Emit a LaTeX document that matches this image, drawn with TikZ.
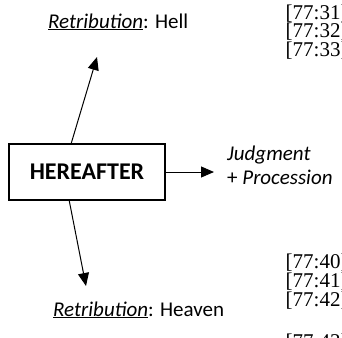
\documentclass[tikz,border=0pt]{standalone}
\usepackage{fontspec}
\setmainfont{Carlito}
\newfontfamily\refsfont{Liberation Serif}
\usetikzlibrary{arrows.meta}
\begin{document}
\begin{tikzpicture}[x=1bp, y=-1bp,
  label/.style={inner sep=0pt, font=\fontsize{21bp}{25bp}\selectfont},
  refline/.style={inner sep=0pt, anchor=base west, font=\refsfont\fontsize{21bp}{18.5bp}\selectfont},
  mainbox/.style={draw, line width=1.5bp, minimum width=156bp, minimum height=56bp,
    inner sep=0pt, font=\fontsize{24bp}{28bp}\selectfont\bfseries},
  arr/.style={line width=1bp, -{Triangle[length=13bp, width=11bp]}}]
  \useasboundingbox (0,0) rectangle (342,338);
  \clip (0,0) rectangle (342,338);

  % central box
  \node[mainbox] (box) at (87,172) {HEREAFTER};

  % outcome labels
  \node[label, anchor=base west] (hell) at (48,28) {\underline{\textit{Retribution}}: Hell};
  \node[label, anchor=base west] (heaven) at (53,316) {\underline{\textit{Retribution}}: Heaven};
  \node[label, anchor=base west] (judg) at (227,160) {\textit{Judgment}};
  \node[label, anchor=base west] (proc) at (227,184) {+ \textit{Procession}};

  % verse references, running off the right edge
  \node[refline] (r31) at (285.5,19) {[77:31]};
  \node[refline] (r32) at (285.5,37.5) {[77:32]};
  \node[refline] (r33) at (285.5,56) {[77:33]};
  \node[refline] (r40) at (285.5,268) {[77:40]};
  \node[refline] (r41) at (285.5,287) {[77:41]};
  \node[refline] (r42) at (285.5,306) {[77:42]};
  \node[refline] (r43) at (285.5,348) {[77:43]};

  % arrow end points
  \coordinate (hellTip) at (97,57);
  \coordinate (heavenTip) at (86,286);
  \coordinate (judgTip) at (214,172);

  \draw[arr] (box.north west) ++(63,0) -- (hellTip);
  \draw[arr] (box.south west) ++(61,0) -- (heavenTip);
  \draw[arr] (box.east) -- (judgTip);
\end{tikzpicture}
\end{document}
